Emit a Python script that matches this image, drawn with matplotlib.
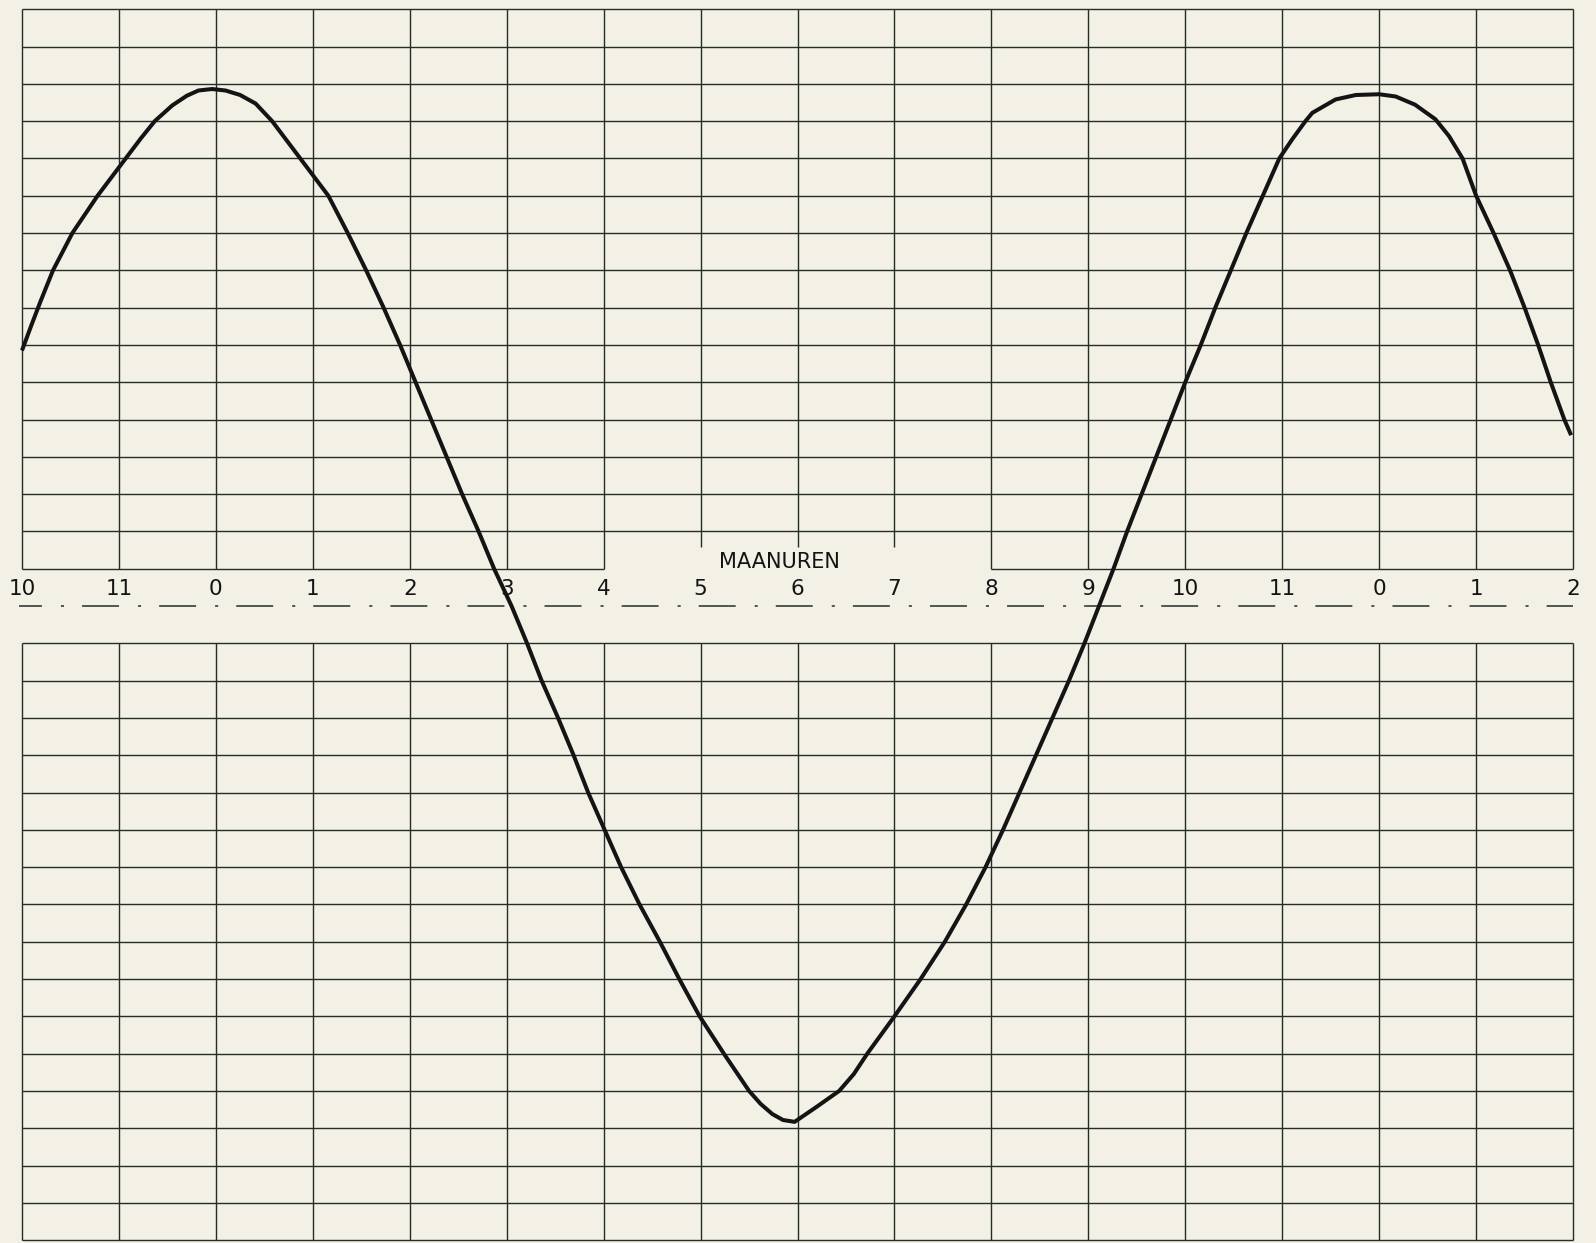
import matplotlib
matplotlib.use("Agg")
import matplotlib.pyplot as plt
import numpy as np

plt.rcParams['font.family'] = ['DejaVu Sans']
plt.rcParams['lines.scale_dashes'] = False

# ---------------- data ----------------
hour_labels = ["10", "11", "0", "1", "2", "3", "4", "5", "6", "7", "8",
               "9", "10", "11", "0", "1", "2"]
hour_pos = list(range(len(hour_labels)))
axis_title = "MAANUREN"

# tide curve: position along the hour axis, level in grid rows
curve_x = [0.00, 0.10, 0.19, 0.32, 0.52, 0.78, 1.07, 1.23, 1.37, 1.55, 1.70,
           1.82, 1.96, 2.10, 2.25, 2.41, 2.58, 2.87, 3.16, 3.36, 3.55, 3.73,
           3.90, 4.06, 4.22, 4.38, 4.54, 4.71, 4.87, 5.05, 5.21, 5.36, 5.53,
           5.69, 5.84, 6.01, 6.18, 6.37, 6.58, 6.78, 6.99, 7.24, 7.50, 7.62,
           7.74, 7.85, 7.97, 8.19, 8.43, 8.58, 8.72, 9.00, 9.27, 9.52, 9.74,
           9.94, 10.12, 10.29, 10.46, 10.63, 10.80, 10.96, 11.11, 11.26, 11.40,
           11.55, 11.70, 11.85, 12.00, 12.16, 12.31, 12.47, 12.63, 12.80, 12.97,
           13.10, 13.24, 13.31, 13.55, 13.76, 14.00, 14.17, 14.37, 14.58, 14.72,
           14.86, 15.00, 15.18, 15.35, 15.50, 15.64, 15.77, 15.91, 15.98]
curve_y = [6.85, 7.55, 8.16, 9.0, 10.0, 11.0, 12.0, 12.55, 13.0, 13.42, 13.68,
           13.82, 13.86, 13.82, 13.7, 13.47, 13.0, 12.0, 11.0, 10.0, 9.0, 8.0,
           7.0, 6.0, 5.0, 4.0, 3.0, 2.0, 1.0, 0.0, -1.0, -2.0, -3.0,
           -4.0, -5.0, -6.0, -7.0, -8.0, -9.0, -10.0, -11.0, -12.0, -13.0, -13.35,
           -13.62, -13.78, -13.83, -13.44, -13.0, -12.55, -12.0, -11.0, -10.0, -9.0, -8.0,
           -7.0, -6.0, -5.0, -4.0, -3.0, -2.0, -1.0, 0.0, 1.0, 2.0,
           3.0, 4.0, 5.0, 6.0, 7.0, 8.0, 9.0, 10.0, 11.0, 12.0,
           12.5, 13.0, 13.22, 13.58, 13.7, 13.72, 13.66, 13.44, 13.05, 12.6,
           12.0, 11.0, 10.0, 9.0, 8.0, 7.0, 6.0, 5.0, 4.58]

# ---------------- style ----------------
paper = "#f3f0e5"
grid_c = "#222e28"
ink = "#141414"
grid_lw = 1.0

W, H = 1596, 1243
fig = plt.figure(figsize=(W / 100, H / 100), dpi=100, facecolor=paper)
ax = fig.add_axes([0, 0, 1, 1])
ax.set_facecolor(paper)
ax.axis("off")

px_x = 96.94   # pixels per hour column
px_y = 37.3    # pixels per grid row
x0_px = 22     # pixel of first hour line
yc_px = 606    # pixel of centre line
ax.set_xlim(-x0_px / px_x, (W - x0_px) / px_x)
ax.set_ylim(-(H - yc_px) / px_y, yc_px / px_y)

n = len(hour_pos) - 1
gap_lo, gap_hi = 6, 10   # columns whose bottom row is left open for the title

# upper grid (rows 1..16)
for r in range(1, 17):
    if r == 1:
        ax.hlines(r, 0, gap_lo, color=grid_c, lw=grid_lw)
        ax.hlines(r, gap_hi, n, color=grid_c, lw=grid_lw)
    else:
        ax.hlines(r, 0, n, color=grid_c, lw=grid_lw)
for c in hour_pos:
    if gap_lo < c < gap_hi:
        ax.vlines(c, 1.57, 16, color=grid_c, lw=grid_lw)
    else:
        ax.vlines(c, 1, 16, color=grid_c, lw=grid_lw)

# lower grid (rows -1..-17)
for r in range(-17, 0):
    ax.hlines(r, 0, n, color=grid_c, lw=grid_lw)
for c in hour_pos:
    ax.vlines(c, -17, -1, color=grid_c, lw=grid_lw)

# centre dash-dot line (pattern in points at 100 dpi)
ax.plot([-3 / px_x, n], [0, 0], color=grid_c, lw=1.1,
        linestyle=(10.1, (26.6, 13.7, 2.2, 13.0)), solid_capstyle="butt",
        dash_capstyle="butt")

# hour labels
for p, lab in zip(hour_pos, hour_labels):
    ax.text(p, 0.45, lab, ha="center", va="center", fontsize=15.5,
            color=ink)

ax.text(7.81, 1.18, axis_title, ha="center", va="center", fontsize=15,
        color=ink)

# tide curve
ax.plot(curve_x, curve_y, color=ink, lw=2.9, solid_joinstyle="round",
        solid_capstyle="butt")

fig.savefig("out.png", dpi=100, facecolor=paper)
